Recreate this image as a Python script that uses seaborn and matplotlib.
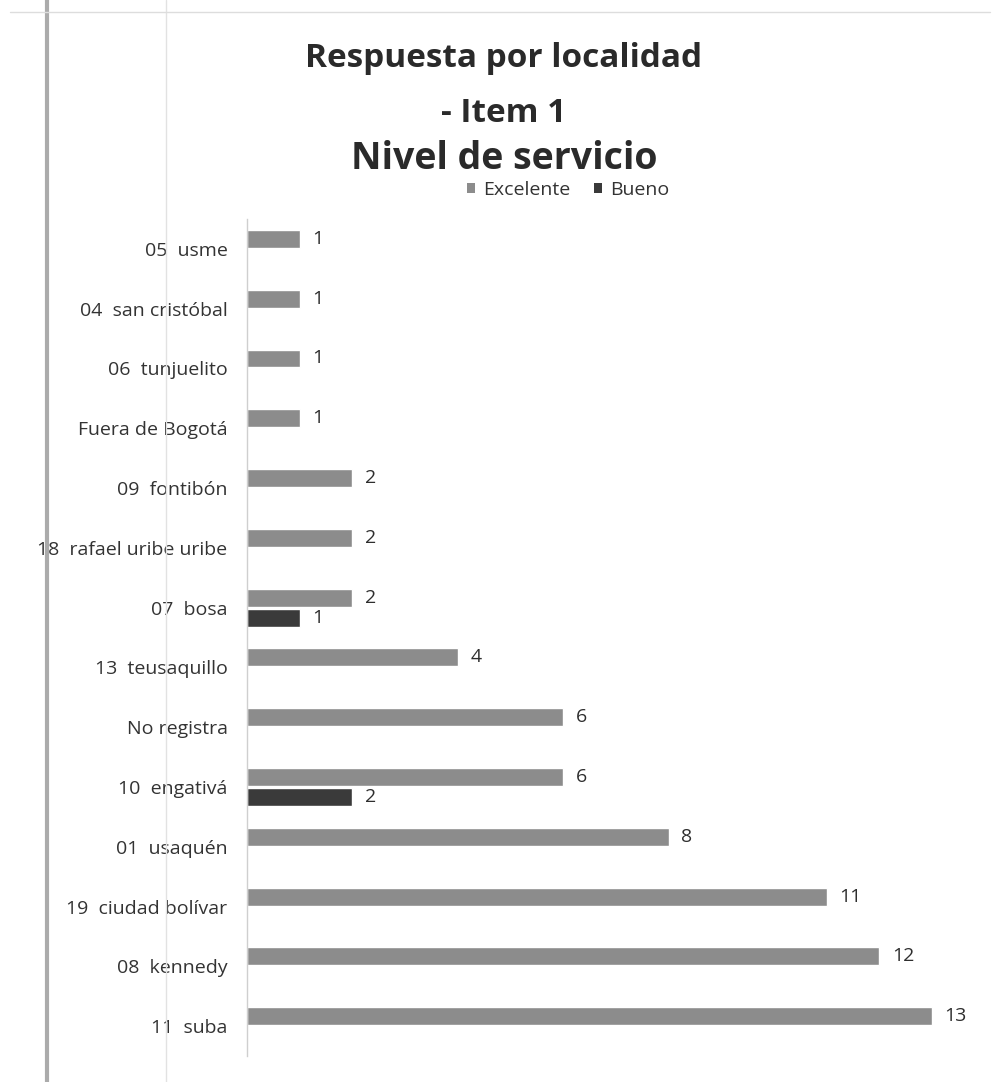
import numpy as np
import pandas as pd
import matplotlib
matplotlib.use("Agg")
import matplotlib.pyplot as plt
from matplotlib.patches import Patch
import seaborn as sns

categories = ["05  usme", "04  san cristóbal", "06  tunjuelito", "Fuera de Bogotá",
              "09  fontibón", "18  rafael uribe uribe", "07  bosa", "13  teusaquillo",
              "No registra", "10  engativá", "01  usaquén", "19  ciudad bolívar",
              "08  kennedy", "11  suba"]
excelente = [1, 1, 1, 1, 2, 2, 2, 4, 6, 6, 8, 11, 12, 13]
bueno = [None, None, None, None, None, None, 1, None, None, 2, None, None, None, None]
series_names = ["Excelente", "Bueno"]
title_lines = ["Respuesta por localidad", "- Item 1", "Nivel de servicio"]

rows = []
for c, e, b in zip(categories, excelente, bueno):
    rows.append({"cat": c, "serie": "Excelente", "val": e})
    rows.append({"cat": c, "serie": "Bueno", "val": b if b is not None else np.nan})
df = pd.DataFrame(rows)

sns.set_style("white")
plt.rcParams['font.family'] = ['Open Sans', 'DejaVu Sans']

W, H = 997, 1082
fig = plt.figure(figsize=(W / 100, H / 100), dpi=100)
ax = fig.add_axes([247 / W, 1 - 1056 / H, (990 - 247) / W, (1056 - 219) / H])

palette = {"Excelente": "#8c8c8c", "Bueno": "#3a3a3a"}
sns.barplot(data=df, y="cat", x="val", hue="serie", order=categories,
            hue_order=series_names, palette=palette, orient="h",
            width=0.667, gap=0.1, ax=ax, legend=False, errorbar=None)

ax.set_xlim(0, 14.1)
ax.set_ylim(13.5, -0.5)
ax.set_xlabel("")
ax.set_ylabel("")
ax.set_xticks([])
for s in ["top", "right", "bottom"]:
    ax.spines[s].set_visible(False)
ax.spines["left"].set_color("#cfcfcf")
ax.spines["left"].set_linewidth(1.0)
ax.tick_params(axis="y", length=0, pad=14, labelsize=14, labelcolor="#333333")

for cont in ax.containers:
    labels = ["" if np.isnan(v) else f"{int(v)}" for v in cont.datavalues]
    ax.bar_label(cont, labels=labels, padding=9, fontsize=14, color="#2e2e2e")

# Title (three lines, bold)
baselines = [67, 122, 169]
sizes = [24, 24, 27]
for t, y, fs in zip(title_lines, baselines, sizes):
    fig.text(504 / W, 1 - y / H, t, ha="center", va="baseline", fontsize=fs,
             fontweight="bold", color="#2a2a2a")

# Legend
handles = [Patch(facecolor=palette[n], edgecolor="none") for n in series_names]
fig.legend(handles, series_names, loc="center", bbox_to_anchor=(568 / W, 1 - 190 / H),
           ncol=2, frameon=False, fontsize=14, handlelength=0.45, handleheight=0.45,
           handletextpad=0.4, columnspacing=1.2, labelcolor="#333333",
           borderpad=0, borderaxespad=0)

# Scan border artifacts
fig.add_artist(plt.Line2D([47 / W, 47 / W], [0, 1], transform=fig.transFigure,
                          color="#ababab", linewidth=3))
fig.add_artist(plt.Line2D([166 / W, 166 / W], [0, 1], transform=fig.transFigure,
                          color="#e2e2e2", linewidth=1))
fig.add_artist(plt.Line2D([10 / W, 990 / W], [1 - 12 / H, 1 - 12 / H], transform=fig.transFigure,
                          color="#dddddd", linewidth=1))

fig.savefig("out.png", dpi=100, facecolor="white")
